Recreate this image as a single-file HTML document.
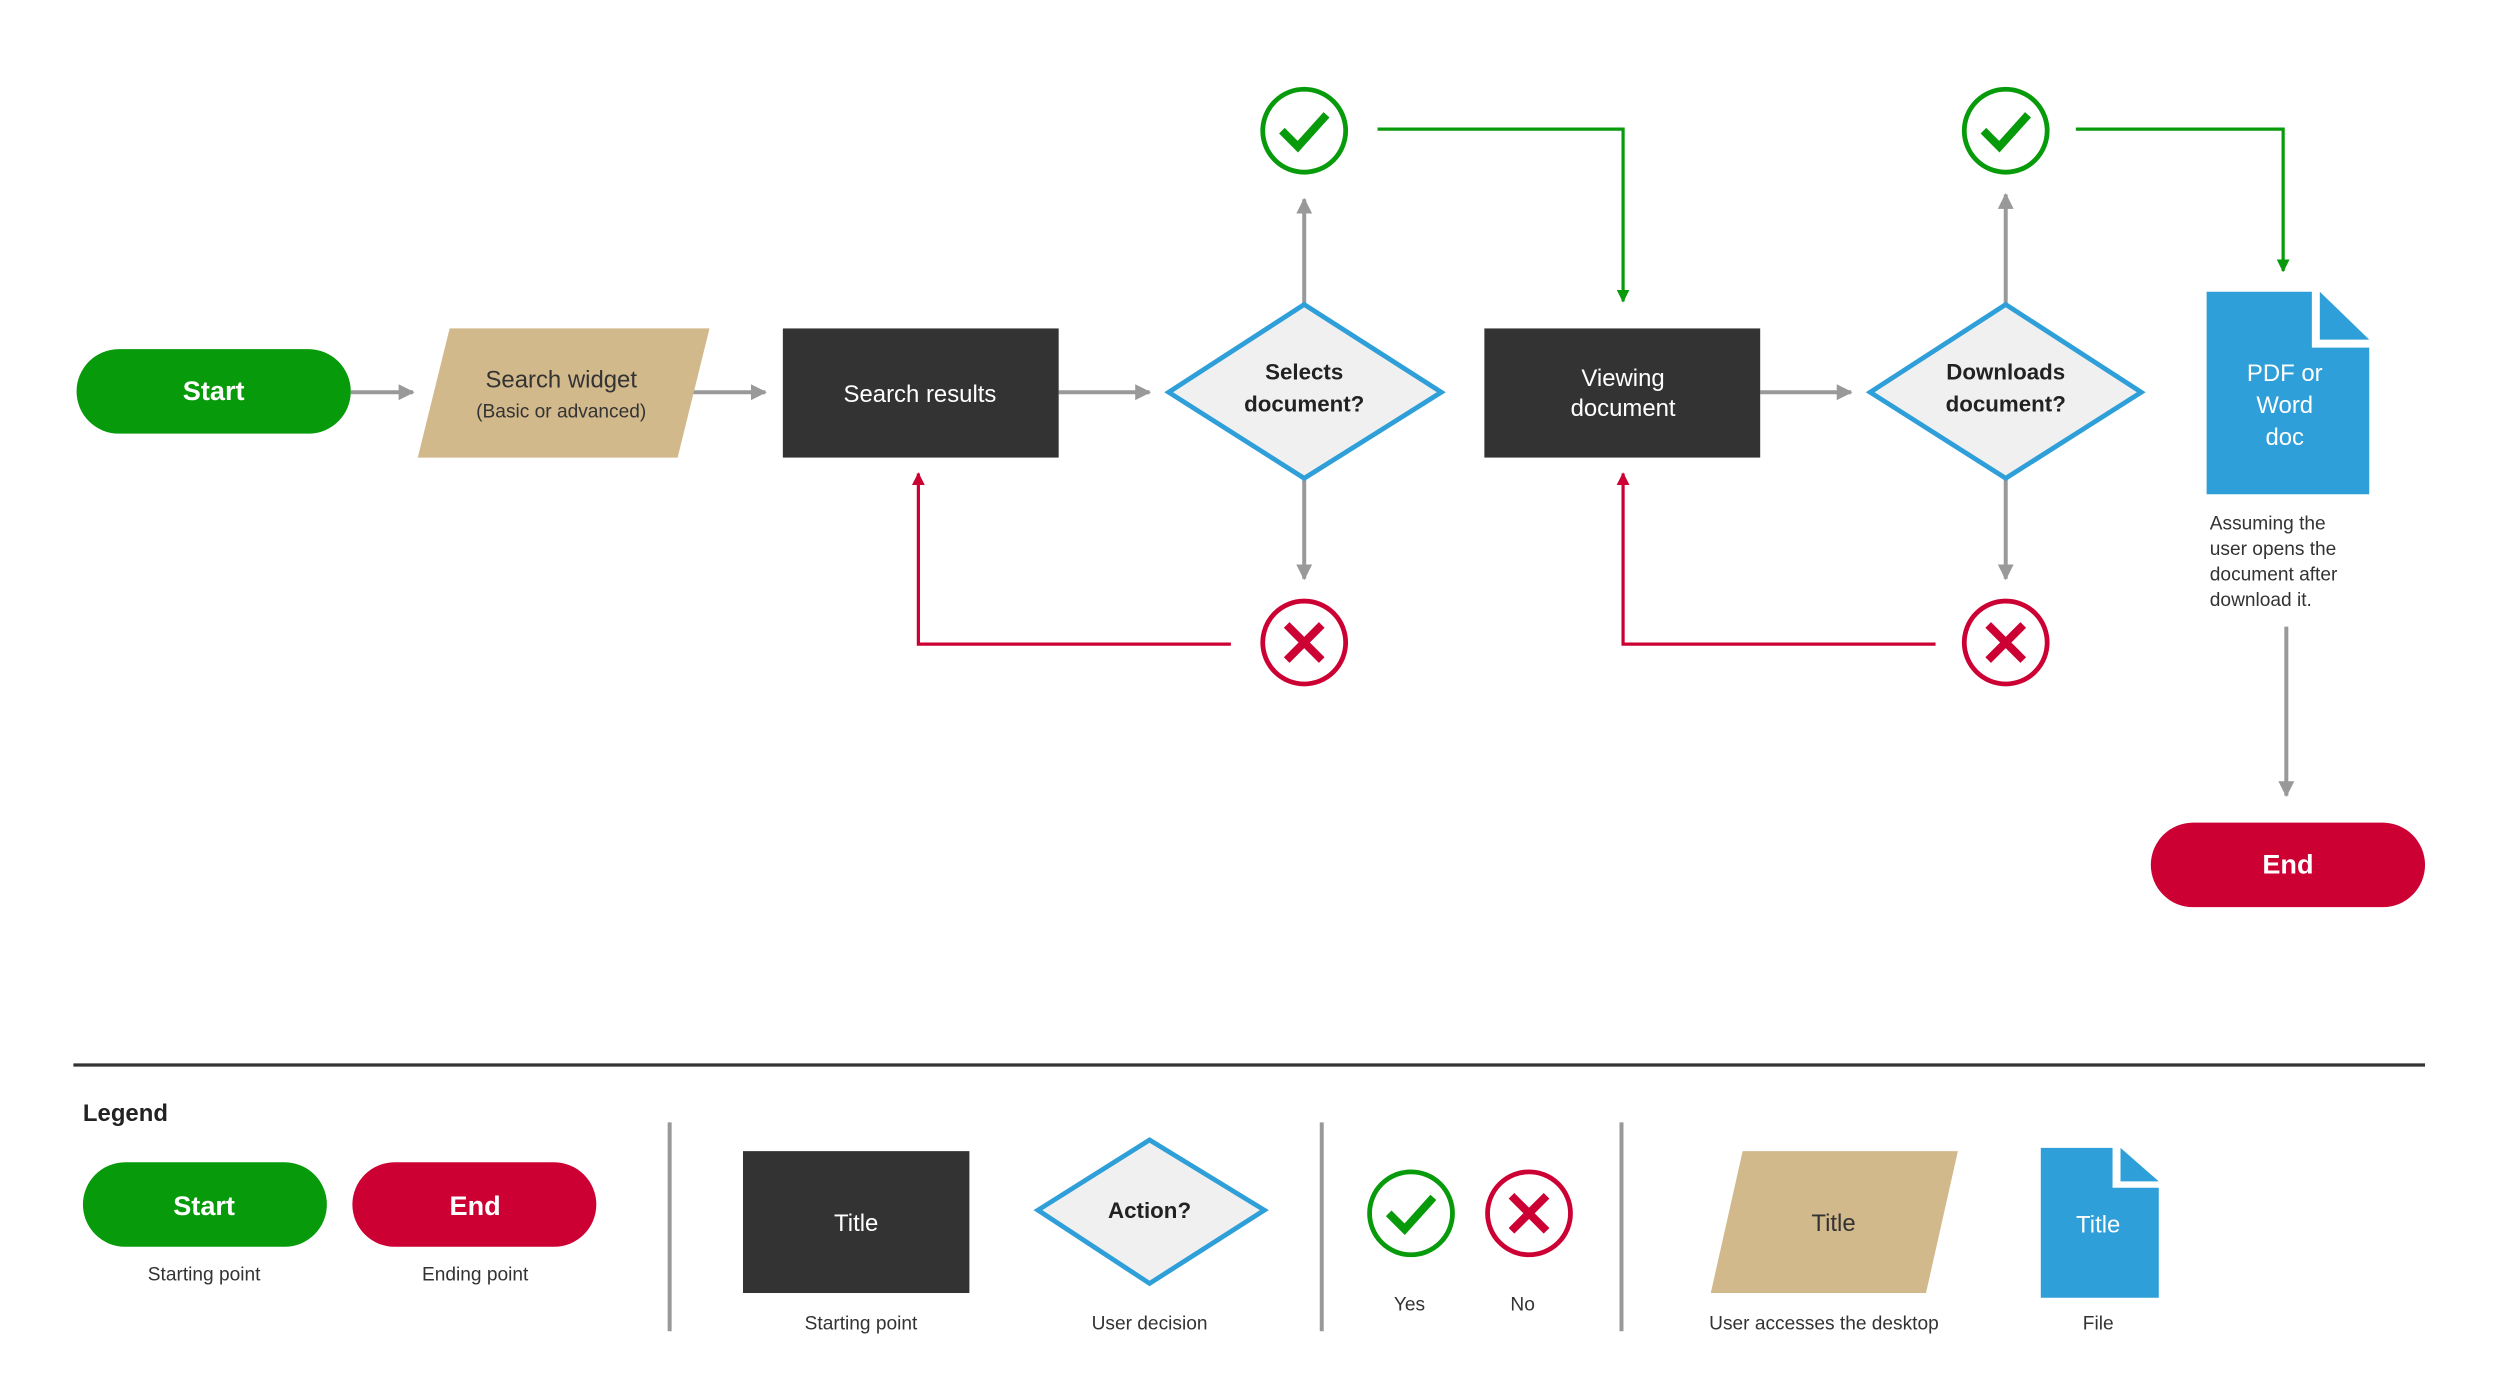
<!DOCTYPE html>
<html><head><meta charset="utf-8"><style>
html,body{margin:0;padding:0;background:#fff;}
svg{display:block;}
text{font-family:"Liberation Sans",sans-serif;}
</style></head><body>
<svg width="2500" height="1389" viewBox="0 0 1568 871.2" xmlns="http://www.w3.org/2000/svg">
<defs>
<marker id="ag" viewBox="0 0 10 10" refX="9" refY="5" markerWidth="4" markerHeight="4" orient="auto"><path d="M0,0L10,5L0,10z" fill="#999"/></marker>
<marker id="agr" viewBox="0 0 10 10" refX="9" refY="5" markerWidth="4" markerHeight="4" orient="auto"><path d="M0,0L10,5L0,10z" fill="#079a0a"/></marker>
<marker id="ar" viewBox="0 0 10 10" refX="9" refY="5" markerWidth="4" markerHeight="4" orient="auto"><path d="M0,0L10,5L0,10z" fill="#cc0033"/></marker>
<g id="chk"><circle cx="0" cy="0" r="26" fill="#fff" stroke="#079a0a" stroke-width="3"/><polyline points="-14,0 -4,10 14,-10" fill="none" stroke="#079a0a" stroke-width="5"/></g>
<g id="crs"><circle cx="0" cy="0" r="26" fill="#fff" stroke="#cc0033" stroke-width="3"/><path d="M-11,-11L11,11M11,-11L-11,11" stroke="#cc0033" stroke-width="5"/></g>
</defs>

<g stroke="#999" stroke-width="2.5" fill="none">
<line x1="220" y1="246" x2="259" y2="246" marker-end="url(#ag)"/>
<line x1="433" y1="246" x2="480" y2="246" marker-end="url(#ag)"/>
<line x1="664" y1="246" x2="721" y2="246" marker-end="url(#ag)"/>
<line x1="1104" y1="246" x2="1161" y2="246" marker-end="url(#ag)"/>
<line x1="818" y1="191" x2="818" y2="125" marker-end="url(#ag)"/>
<line x1="818" y1="300" x2="818" y2="363" marker-end="url(#ag)"/>
<line x1="1258" y1="191" x2="1258" y2="122" marker-end="url(#ag)"/>
<line x1="1258" y1="300" x2="1258" y2="363" marker-end="url(#ag)"/>
<line x1="1434" y1="393" x2="1434" y2="499" marker-end="url(#ag)"/>
</g>
<g stroke="#079a0a" stroke-width="2" fill="none">
<polyline points="864,81 1018,81 1018,189" marker-end="url(#agr)"/>
<polyline points="1302,81 1432,81 1432,170" marker-end="url(#agr)"/>
</g>
<g stroke="#cc0033" stroke-width="2" fill="none">
<polyline points="772,404 576,404 576,297" marker-end="url(#ar)"/>
<polyline points="1214,404 1018,404 1018,297" marker-end="url(#ar)"/>
</g>

<rect x="48" y="219" width="172" height="53" rx="26.5" fill="#079a0a"/>
<text x="134" y="251" font-size="17" font-weight="bold" fill="#fff" text-anchor="middle">Start</text>

<polygon points="282,206 445,206 425,287 262,287" fill="#d2b98c"/>
<text x="352" y="243" font-size="15" fill="#333" text-anchor="middle">Search widget</text>
<text x="352" y="262" font-size="12" fill="#333" text-anchor="middle">(Basic or advanced)</text>

<rect x="491" y="206" width="173" height="81" fill="#333"/>
<text x="577" y="252" font-size="15" fill="#fff" text-anchor="middle">Search results</text>

<polygon points="818,191 904,246 818,300 733,246" fill="#f0f0f0" stroke="#2e9fd8" stroke-width="3"/>
<text x="818" y="238" font-size="14" font-weight="bold" fill="#222" text-anchor="middle">Selects</text>
<text x="818" y="258" font-size="14" font-weight="bold" fill="#222" text-anchor="middle">document?</text>

<rect x="931" y="206" width="173" height="81" fill="#333"/>
<text x="1018" y="242" font-size="15" fill="#fff" text-anchor="middle">Viewing</text>
<text x="1018" y="261" font-size="15" fill="#fff" text-anchor="middle">document</text>

<polygon points="1258,191 1343,246 1258,300 1173,246" fill="#f0f0f0" stroke="#2e9fd8" stroke-width="3"/>
<text x="1258" y="238" font-size="14" font-weight="bold" fill="#222" text-anchor="middle">Downloads</text>
<text x="1258" y="258" font-size="14" font-weight="bold" fill="#222" text-anchor="middle">document?</text>

<use href="#chk" x="818" y="82"/>
<use href="#crs" x="818" y="403"/>
<use href="#chk" x="1258" y="82"/>
<use href="#crs" x="1258" y="403"/>

<polygon points="1384,183 1450,183 1450,218 1486,218 1486,310 1384,310" fill="#2e9fd8"/>
<polygon points="1455,183 1486,213 1455,213" fill="#2e9fd8"/>
<text x="1433" y="239" font-size="15" fill="#fff" text-anchor="middle">PDF or</text>
<text x="1433" y="259" font-size="15" fill="#fff" text-anchor="middle">Word</text>
<text x="1433" y="279" font-size="15" fill="#fff" text-anchor="middle">doc</text>
<g font-size="12" fill="#333">
<text x="1386" y="332">Assuming the</text>
<text x="1386" y="348">user opens the</text>
<text x="1386" y="364">document after</text>
<text x="1386" y="380">download it.</text>
</g>

<rect x="1349" y="516" width="172" height="53" rx="26.5" fill="#cc0033"/>
<text x="1435" y="548" font-size="17" font-weight="bold" fill="#fff" text-anchor="middle">End</text>

<line x1="46" y1="668" x2="1521" y2="668" stroke="#333" stroke-width="2"/>
<text x="52" y="703" font-size="15" font-weight="bold" fill="#222">Legend</text>
<g stroke="#999" stroke-width="2.5">
<line x1="420" y1="704" x2="420" y2="835"/>
<line x1="829" y1="704" x2="829" y2="835"/>
<line x1="1017" y1="704" x2="1017" y2="835"/>
</g>
<rect x="52" y="729" width="153" height="53" rx="26.5" fill="#079a0a"/>
<text x="128" y="762" font-size="17" font-weight="bold" fill="#fff" text-anchor="middle">Start</text>
<rect x="221" y="729" width="153" height="53" rx="26.5" fill="#cc0033"/>
<text x="298" y="762" font-size="17" font-weight="bold" fill="#fff" text-anchor="middle">End</text>
<g font-size="12" fill="#333" text-anchor="middle">
<text x="128" y="803">Starting point</text>
<text x="298" y="803">Ending point</text>
<text x="540" y="834">Starting point</text>
<text x="721" y="834">User decision</text>
<text x="884" y="822">Yes</text>
<text x="955" y="822">No</text>
<text x="1144" y="834">User accesses the desktop</text>
<text x="1316" y="834">File</text>
</g>
<rect x="466" y="722" width="142" height="89" fill="#333"/>
<text x="537" y="772" font-size="15" fill="#fff" text-anchor="middle">Title</text>
<polygon points="721,715 793,759 721,805 651,759" fill="#f0f0f0" stroke="#2e9fd8" stroke-width="3"/>
<text x="721" y="764" font-size="14" font-weight="bold" fill="#222" text-anchor="middle">Action?</text>
<use href="#chk" x="885" y="761"/>
<use href="#crs" x="959" y="761"/>
<polygon points="1093,722 1228,722 1208,811 1073,811" fill="#d2b98c"/>
<text x="1150" y="772" font-size="15" fill="#333" text-anchor="middle">Title</text>
<polygon points="1280,720 1325,720 1325,745 1354,745 1354,814 1280,814" fill="#2e9fd8"/>
<polygon points="1330,720 1354,741 1330,741" fill="#2e9fd8"/>
<text x="1316" y="773" font-size="15" fill="#fff" text-anchor="middle">Title</text>
</svg>
</body></html>
